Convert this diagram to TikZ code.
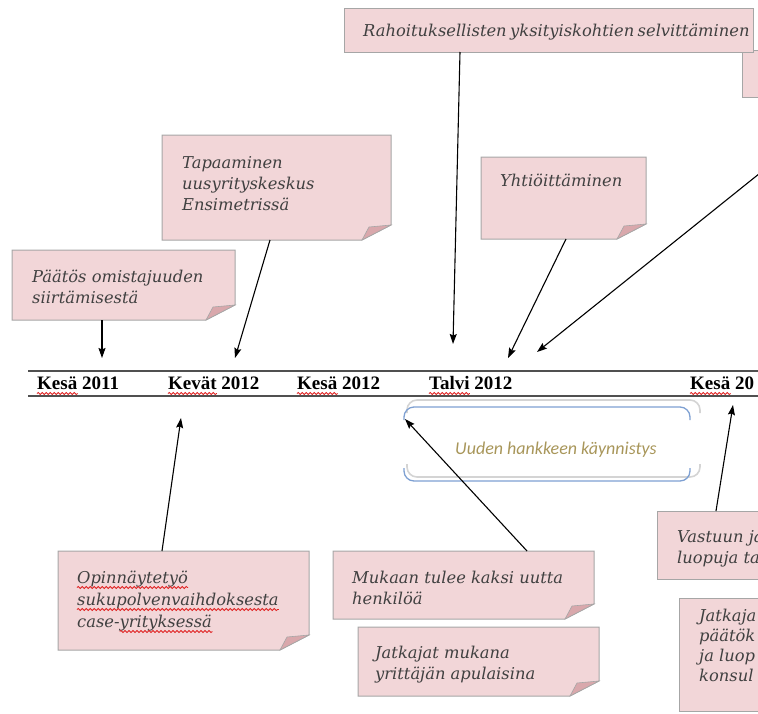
\documentclass[tikz,border=0pt]{standalone}
\usepackage{fontspec}
\setmainfont{Liberation Serif}
\newfontfamily\notefont{DejaVu Serif}
\newfontfamily\calfont{Carlito}
\usetikzlibrary{arrows.meta,calc,decorations.pathmorphing}
\definecolor{notefill}{HTML}{F2D6D8}
\definecolor{noteedge}{HTML}{A6A6A6}
\definecolor{foldfill}{HTML}{D9A8AC}
\definecolor{notetextc}{HTML}{404040}
\definecolor{axisgray}{HTML}{505050}
\definecolor{frameblue}{HTML}{7EA0D2}
\definecolor{frameshade}{HTML}{D4D4D4}
\definecolor{launchtext}{HTML}{A8965A}
\definecolor{spellred}{HTML}{E02020}
\newcommand\notestyle{\notefont\itshape\fontsize{16.3}{21}\selectfont}
\newcommand\periodstyle{\bfseries\fontsize{19}{22}\selectfont}
% note box with a folded bottom-right corner
\newcommand\foldednote[1]{%
  \filldraw[fill=notefill, draw=noteedge, line width=1pt]
    (#1.north west) -- (#1.north east) -- ([yshift=15pt]#1.south east)
    -- ([xshift=-29pt]#1.south east) -- (#1.south west) -- cycle;
  \filldraw[fill=foldfill, draw=noteedge, line width=0.6pt]
    ([yshift=15pt]#1.south east) -- ([xshift=-22pt,yshift=13pt]#1.south east)
    -- ([xshift=-29pt]#1.south east) -- cycle;}
\newcommand\plainnote[1]{%
  \filldraw[fill=notefill, draw=noteedge, line width=1pt]
    (#1.north west) rectangle (#1.south east);}
% red wavy underline below a word node
\newcommand\spellline[1]{%
  \draw[spellmark] ([yshift=-4.5pt]#1.base west) -- ([yshift=-4.5pt]#1.base east);}
\begin{document}
\begin{tikzpicture}[x=1pt,y=-1pt,
  notebox/.style={rectangle, inner sep=0pt, outer sep=0pt, draw=none},
  notetext/.style={font=\notestyle, text=notetextc, align=left, inner sep=0pt, anchor=base west},
  period/.style={font=\periodstyle, inner sep=0pt, anchor=base west},
  axis/.style={axisgray, line width=2.2pt},
  spellmark/.style={spellred, line width=0.8pt, decorate,
    decoration={snake, amplitude=1.1pt, segment length=4pt}},
  pointer/.style={-{Stealth[length=10pt,width=7pt,inset=1.5pt]}, line width=1.1pt, black}]
\useasboundingbox (0,0) rectangle (758,713);
\clip (0,0) rectangle (758,713);

% time axis
\draw[axis] (28,371) -- (780,371);
\draw[axis] (28,396) -- (780,396);
\node[period] (t1) at (37,389) {Kesä 2011};
\node[period] (t2) at (168,389) {Kevät 2012};
\node[period] (t3) at (297,389) {Kesä 2012};
\node[period] (t4) at (429,389) {Talvi 2012};
\node[period] (t5) at (690,389) {Kesä 20};
% word spans of the marked words
\node[period] (w1) at (t1.base west) {\phantom{Kesä}};
\node[period] (w2) at (t2.base west) {\phantom{Kevät}};
\node[period] (w3) at (t3.base west) {\phantom{Kesä}};
\node[period] (w4) at (t4.base west) {\phantom{Talvi}};
\node[period] (w5) at (t5.base west) {\phantom{Kesä}};
\spellline{w1}
\spellline{w2}
\spellline{w3}
\spellline{w4}
\spellline{w5}

% note boxes
\node[notebox, minimum width=223pt, minimum height=70pt] (pa) at (123.5,285) {};
\node[notebox, minimum width=229pt, minimum height=105pt] (ta) at (276.5,187.5) {};
\node[notebox, minimum width=48pt, minimum height=47pt] (rb) at (766,73.5) {};
\node[notebox, minimum width=409pt, minimum height=44pt] (ra) at (548.5,30) {};
\node[notebox, minimum width=165pt, minimum height=82pt] (yh) at (563.5,198) {};
\node[notebox, minimum width=251pt, minimum height=99pt] (op) at (183.5,600.5) {};
\node[notebox, minimum width=261pt, minimum height=68pt] (mu) at (463.5,585) {};
\node[notebox, minimum width=241pt, minimum height=69pt] (ja) at (478.5,661.5) {};
\node[notebox, minimum width=133pt, minimum height=68pt] (va) at (723.5,545) {};
\node[notebox, minimum width=111pt, minimum height=113pt] (jk) at (734.5,654.5) {};

\foldednote{pa}
\foldednote{ta}
\plainnote{rb}
\plainnote{ra}
\foldednote{yh}
\foldednote{op}
\foldednote{mu}
\foldednote{ja}
\plainnote{va}
\plainnote{jk}

% note texts, each placed at the baseline of its last line
\node[notetext] (pat) at (32,303) {Päätös omistajuuden\\siirtämisestä};
\node[notetext] (tat) at (182,210) {Tapaaminen\\uusyrityskeskus\\Ensimetrissä};
\node[notetext] (rat) at (363,36) {\makebox[386pt][s]{Rahoituksellisten yksityiskohtien selvittäminen}};
\node[notetext] (yht) at (500,186) {Yhtiöittäminen};
\node[notetext, font=\notefont\itshape\fontsize{16.3}{22}\selectfont] (opt) at (77,627)
  {Opinnäytetyö\\sukupolvenvaihdoksesta\\case-yrityksessä};
\node[notetext] (ow1) at (77,583) {\phantom{Opinnäytetyö}};
\node[notetext] (ow2) at (77,605) {\phantom{sukupolvenvaihdoksesta}};
\node[notetext] (ow0) at (77,627) {\phantom{case-}};
\node[notetext] (ow3) at (ow0.base east) {\phantom{yrityksessä}};
\spellline{ow1}
\spellline{ow2}
\spellline{ow3}
\node[notetext] (mut) at (352,604) {Mukaan tulee kaksi uutta\\henkilöä};
\node[notetext] (jat) at (375,679) {Jatkajat mukana\\yrittäjän apulaisina};
\node[notetext] (vat) at (677,563) {Vastuun ja\\luopuja ta};
\node[notetext, font=\notefont\itshape\fontsize{16.3}{20}\selectfont] (jkt) at (699,681)
  {Jatkaja\\päätök\\ja luop\\konsul};

% launch frame
\node[notebox, minimum width=286pt, minimum height=74pt] (uf) at (547,444) {};
\draw[frameshade, line width=1.6pt, rounded corners=10pt]
  ([xshift=3pt,yshift=-6pt]uf.north west) -- ([xshift=3pt,yshift=7pt]uf.north west)
  -- ([xshift=10pt,yshift=7pt]uf.north east) -- ([xshift=10pt,yshift=-6pt]uf.north east);
\draw[frameshade, line width=1.6pt, rounded corners=10pt]
  ([xshift=3pt,yshift=17pt]uf.south west) -- ([xshift=3pt,yshift=4pt]uf.south west)
  -- ([xshift=10pt,yshift=4pt]uf.south east) -- ([xshift=10pt,yshift=17pt]uf.south east);
\draw[frameblue, line width=1.3pt, rounded corners=10pt]
  ([yshift=-13pt]uf.north west) -- (uf.north west) -- (uf.north east) -- ([yshift=-13pt]uf.north east);
\draw[frameblue, line width=1.3pt, rounded corners=10pt]
  ([yshift=13pt]uf.south west) -- (uf.south west) -- (uf.south east) -- ([yshift=13pt]uf.south east);
\node[inner sep=0pt, anchor=base west, text=launchtext, font=\calfont\itshape\fontsize{18}{20}\selectfont]
  (ufx) at (455,454) {Uuden hankkeen käynnistys};

% pointers
\coordinate (tipA) at (102,358);
\coordinate (tipB) at (235,358);
\coordinate (tipC) at (453,344);
\coordinate (tipD) at (508,358);
\coordinate (tipE) at (537,352);
\coordinate (offE) at (800,141);
\coordinate (tipF) at (181,418);
\coordinate (tipG) at (405,419);
\coordinate (tipH) at (733,405);
\draw[pointer] (tipA |- pa.south) -- (tipA);
\draw[pointer] ([xshift=-6.5pt]ta.south) -- (tipB);
\draw[pointer] ([xshift=-88.5pt]ra.south) -- (tipC);
\draw[pointer] ([xshift=2.5pt]yh.south) -- (tipD);
\draw[pointer] (offE) -- (tipE);
\draw[pointer] ([xshift=-21.5pt]op.north) -- (tipF);
\draw[pointer] ([xshift=63.5pt]mu.north) -- (tipG);
\draw[pointer] ([xshift=-7.5pt]va.north) -- (tipH);
\end{tikzpicture}
\end{document}
